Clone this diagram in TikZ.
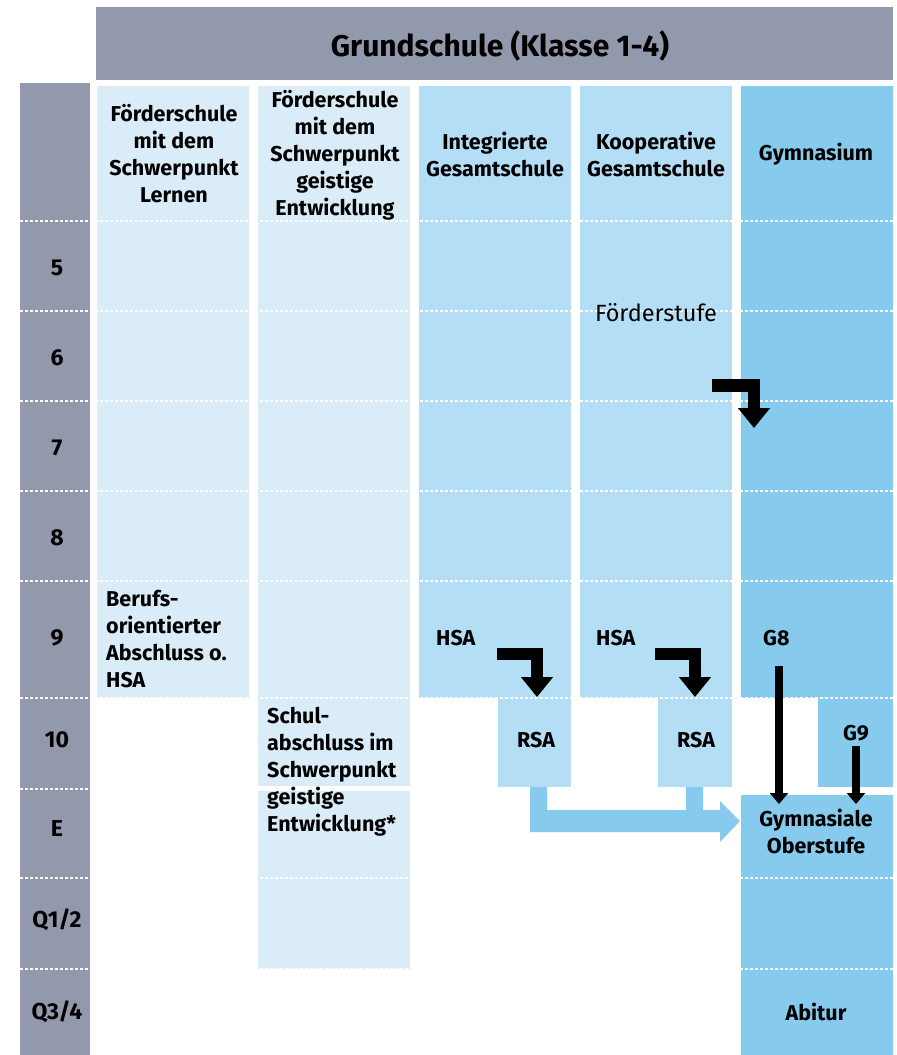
\documentclass[tikz,border=0pt]{standalone}
\usepackage{fontspec}
\setmainfont{Fira Sans}
\usetikzlibrary{arrows.meta}
\definecolor{hgray}{HTML}{9399AC}
\definecolor{clight}{HTML}{D9ECF8}
\definecolor{cmid}{HTML}{B3DEF5}
\definecolor{cgym}{HTML}{86CBEE}
\tikzset{
  lbl/.style={font=\bfseries\fontsize{21.5}{27}\selectfont, inner sep=0pt, text=black},
  lblc/.style={lbl, align=center},
  lbll/.style={lbl, align=left, anchor=west},
  rowlbl/.style={font=\bfseries\fontsize{23}{27}\selectfont, inner sep=0pt},
  rowline/.style={white, line width=2pt, dash pattern=on 2.5pt off 2.5pt},
  bentarrow/.style={line width=12.5pt, -{Triangle[width=31pt,length=20pt]}},
  thinarrow/.style={line width=8pt, -{Triangle[width=18pt,length=11pt]}}
}
\begin{document}
\begin{tikzpicture}[x=1pt,y=-1pt]
\useasboundingbox (0,0) rectangle (897,1055);
% header
\fill[hgray] (96,7) rectangle (893,80);
\node[font=\bfseries\fontsize{30}{32}\selectfont] (gs) at (500,46) {Grundschule (Klasse 1-4)};
% year column
\fill[hgray] (20,83) rectangle (90,1055);
% columns
\fill[clight] (97,86) rectangle (249,698);
\fill[clight] (258,86) rectangle (410,786);
\fill[clight] (258,791) rectangle (410,969);
\fill[cmid] (419,86) rectangle (571,698);
\fill[cmid] (498,698) rectangle (571,787);
\fill[cmid] (580,86) rectangle (732,698);
\fill[cmid] (658,698) rectangle (732,787);
\fill[cgym] (741,86) rectangle (893,698);
\fill[cgym] (818,698) rectangle (893,787);
\fill[cgym] (741,795) rectangle (893,1055);
% dotted row lines
\foreach \yy in {221,311,401,491,581,698,789,878,969}
  \draw[rowline] (20,\yy) -- (893,\yy);
% row labels
\node[rowlbl] (r5) at (57,268) {5};
\node[rowlbl] (r6) at (57,358) {6};
\node[rowlbl] (r7) at (57,448) {7};
\node[rowlbl] (r8) at (57,538) {8};
\node[rowlbl] (r9) at (57,638) {9};
\node[rowlbl] (r10) at (57,740) {10};
\node[rowlbl] (rE) at (57,829) {E};
\node[rowlbl] (rQ12) at (57,920) {Q1/2};
\node[rowlbl] (rQ34) at (57,1012) {Q3/4};
% column headers
\node[lblc] (h1) at (174,154) {Förderschule\\mit dem\\Schwerpunkt\\Lernen};
\node[lblc] (h2) at (335,155) {Förderschule\\mit dem\\Schwerpunkt\\geistige\\Entwicklung};
\node[lblc] (h3) at (495,154) {Integrierte\\Gesamtschule};
\node[lblc] (h4) at (656,154) {Kooperative\\Gesamtschule};
\node[lblc] (h5) at (816,154) {Gymnasium};
\node[font=\fontsize{23.5}{27}\selectfont, inner sep=0pt] (fst) at (656,313) {Förderstufe};
% contents
\node[lbll] (bo) at (106,639) {Berufs-\\orientierter\\Abschluss o.\\HSA};
\node[lbll] (sa) at (267,772) {Schul-\\abschluss im\\Schwerpunkt\\geistige\\Entwicklung*};
\node[lbll] (hsa1) at (436,638) {HSA};
\node[lbll] (hsa2) at (596,638) {HSA};
\node[lbll] (g8) at (763,638) {G8};
\node[lblc] (rsa1) at (536,740) {RSA};
\node[lblc] (rsa2) at (696,740) {RSA};
\node[lblc] (g9) at (856,733) {G9};
\node[lblc] (go) at (816,831) {Gymnasiale\\Oberstufe};
\node[lblc] (abi) at (816,1012) {Abitur};
% light blue merge arrow
\fill[cgym] (530,787) -- (530,832) -- (720,832) -- (720,842) -- (740,821)
  -- (720,801) -- (720,810) -- (703,810) -- (703,787) -- (686,787)
  -- (686,810) -- (547,810) -- (547,787) -- cycle;
% black arrows
\coordinate (sw1) at (712,385.5);
\coordinate (sw1e) at (754,428);
\draw[bentarrow] (sw1) -| (sw1e);
\coordinate (ha1) at (497,654);
\coordinate (ha1e) at (537,697);
\draw[bentarrow] (ha1) -| (ha1e);
\coordinate (ha2) at (655,654);
\coordinate (ha2e) at (695,697);
\draw[bentarrow] (ha2) -| (ha2e);
\coordinate (g8s) at (779,666);
\coordinate (g8e) at (779,804);
\draw[thinarrow] (g8s) -- (g8e);
\coordinate (g9s) at (856,746);
\coordinate (g9e) at (856,804);
\draw[thinarrow] (g9s) -- (g9e);
\end{tikzpicture}
\end{document}
